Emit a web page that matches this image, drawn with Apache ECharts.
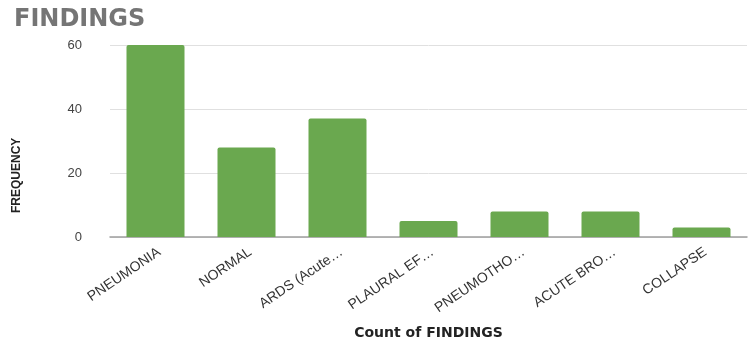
<!DOCTYPE html>
<html>
<head>
<meta charset="utf-8">
<script src="https://cdn.jsdelivr.net/npm/echarts@6/dist/echarts.min.js"></script>
<style>
  html, body { margin: 0; padding: 0; background: #fff; }
  #chart { width: 753px; height: 345px; }
</style>
</head>
<body>
<div id="chart"></div>
<script>
    const categories = ['PNEUMONIA', 'NORMAL', 'ARDS (Acute…', 'PLAURAL EF…', 'PNEUMOTHO…', 'ACUTE BRO…', 'COLLAPSE'];
    const counts = [60, 28, 37, 5, 8, 8, 3];
    const yTicks = [0, 20, 40, 60];

    let chart = echarts.init(document.getElementById('chart'));
    let option = {
        animation: false,
        title: {
            text: 'FINDINGS',
            left: 9,
            top: 3,
            textStyle: {
                color: '#757575',
                fontWeight: 'bold',
                fontSize: 24,
                fontFamily: 'DejaVu Sans'
            }
        },
        graphic: [
            {
                // y axis title sits lower than the plot centre in the original
                type: 'text',
                x: 11,
                y: 213,
                rotation: Math.PI / 2,
                style: {
                    text: 'FREQUENCY',
                    fill: '#222',
                    font: 'bold 12px "Liberation Sans"'
                }
            }
        ],
        grid: {
            left: 110,
            right: 6,
            top: 45,
            bottom: 108
        },
        xAxis: {
            type: 'category',
            data: categories,
            name: 'Count of FINDINGS',
            nameLocation: 'middle',
            nameGap: 89,
            nameTextStyle: {
                color: '#222',
                fontWeight: 'bold',
                fontSize: 14,
                fontFamily: 'DejaVu Sans'
            },
            axisTick: { show: false },
            axisLine: { lineStyle: { color: '#9e9e9e', width: 1.5 } },
            axisLabel: {
                rotate: 34,
                interval: 0,
                margin: 8,
                verticalAlign: 'top',
                color: '#333',
                fontSize: 14,
                fontFamily: 'Liberation Sans'
            }
        },
        yAxis: {
            type: 'value',
            min: yTicks[0],
            max: yTicks[yTicks.length - 1],
            interval: 20,
            axisLabel: {
                margin: 28,
                color: '#444',
                fontSize: 13,
                fontFamily: 'Liberation Sans'
            },
            splitLine: { lineStyle: { color: '#e0e0e0' } }
        },
        series: [
            {
                type: 'bar',
                data: counts,
                barWidth: 58,
                itemStyle: {
                    color: '#6aa84f',
                    borderRadius: [2, 2, 0, 0]
                }
            }
        ]
    };
    chart.setOption(option);
</script>
</body>
</html>
